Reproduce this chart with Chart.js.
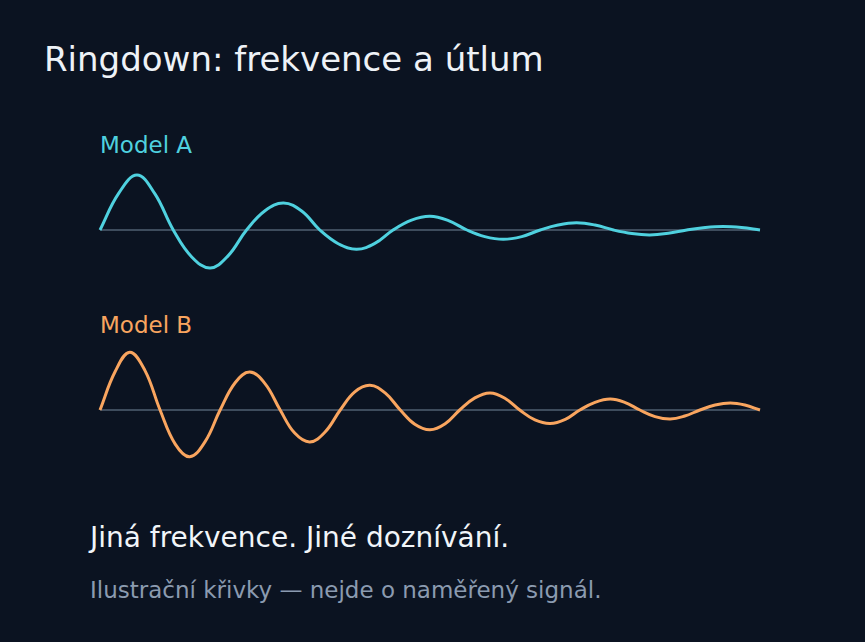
<!DOCTYPE html>
<html>
<head>
<meta charset="utf-8">
<script src="https://cdn.jsdelivr.net/npm/chart.js@4.4.1/dist/chart.umd.min.js"></script>
<style>
  html, body { margin: 0; padding: 0; }
  body { width: 865px; height: 642px; background: #0b1321; position: relative; overflow: hidden;
         font-family: "DejaVu Sans", sans-serif; }
  .txt { position: absolute; white-space: nowrap; line-height: 1; }
  #title { left: 44px; top: 42px; font-size: 34px; color: #eef2f7; }
  #labA { left: 100px; top: 134px; font-size: 23px; color: #4fd1df; }
  #labB { left: 100px; top: 314px; font-size: 23px; color: #f9a55f; }
  #sub { left: 90px; top: 524px; font-size: 28px; color: #f1f5f9; }
  #note { left: 90px; top: 579px; font-size: 23px; color: #8b9bb0; }
  .panel { position: absolute; left: 90px; width: 680px; height: 152px; }
  #pA { top: 154px; }
  #pB { top: 334px; }
</style>
</head>
<body>
<div class="txt" id="title">Ringdown: frekvence a útlum</div>
<div class="txt" id="labA">Model A</div>
<div class="txt" id="labB">Model B</div>
<div class="panel" id="pA"><canvas id="cA"></canvas></div>
<div class="panel" id="pB"><canvas id="cB"></canvas></div>
<div class="txt" id="sub">Jiná frekvence. Jiné doznívání.</div>
<div class="txt" id="note">Ilustrační křivky — nejde o naměřený signál.</div>
<script>
// time axis (arbitrary units) and amplitudes
const timeA = [0, 0.28, 0.56, 0.83, 1.11, 1.39, 1.67, 1.94, 2.22, 2.5, 2.78, 3.06, 3.33, 3.61, 3.89, 4.17, 4.44, 4.72, 5, 5.28, 5.56, 5.83, 6.11, 6.39, 6.67, 6.94, 7.22, 7.5, 7.78, 8.06, 8.33, 8.61, 8.89, 9.17, 9.44, 9.72, 10];
const modelA = [0, 0.66, 1.00, 0.66, 0, -0.49, -0.69, -0.47, 0, 0.35, 0.49, 0.34, 0, -0.25, -0.35, -0.24, 0, 0.18, 0.25, 0.17, 0, -0.12, -0.17, -0.12, 0, 0.09, 0.13, 0.09, 0, -0.065, -0.09, -0.06, 0, 0.045, 0.064, 0.045, 0];
const timeB = [0, 0.23, 0.45, 0.68, 0.91, 1.14, 1.36, 1.59, 1.82, 2.05, 2.27, 2.5, 2.73, 2.95, 3.18, 3.41, 3.64, 3.86, 4.09, 4.32, 4.55, 4.77, 5, 5.23, 5.45, 5.68, 5.91, 6.14, 6.36, 6.59, 6.82, 7.05, 7.27, 7.5, 7.73, 7.95, 8.18, 8.41, 8.64, 8.86, 9.09, 9.32, 9.55, 9.77, 10];
const modelB = [0, 0.70, 1.05, 0.72, 0, -0.62, -0.85, -0.58, 0, 0.50, 0.69, 0.48, 0, -0.42, -0.58, -0.40, 0, 0.33, 0.45, 0.31, 0, -0.26, -0.36, -0.25, 0, 0.22, 0.31, 0.21, 0, -0.18, -0.245, -0.17, 0, 0.14, 0.20, 0.14, 0, -0.12, -0.165, -0.11, 0, 0.09, 0.127, 0.09, 0];
const baseTime = [0, 10];
const baseValue = [0, 0];

function makePanel(id, times, values, color) {
  const pts = times.map((t, i) => ({ x: t, y: values[i] }));
  const base = baseTime.map((t, i) => ({ x: t, y: baseValue[i] }));
  new Chart(document.getElementById(id), {
    type: 'line',
    data: {
      datasets: [
        { data: pts, borderColor: color, borderWidth: 3, pointRadius: 0,
          tension: 0.4, fill: false, order: 1, clip: false },
        { data: base, borderColor: '#3e4c5d', borderWidth: 2, pointRadius: 0,
          fill: false, order: 2, clip: false }
      ]
    },
    options: {
      responsive: true,
      maintainAspectRatio: false,
      animation: false,
      layout: { padding: 10 },
      plugins: { legend: { display: false }, tooltip: { enabled: false } },
      scales: {
        x: { type: 'linear', min: 0, max: 10, display: false },
        y: { min: -1.2, max: 1.2, display: false }
      }
    }
  });
}
makePanel('cA', timeA, modelA, '#4fd1df');
makePanel('cB', timeB, modelB, '#f9a55f');
</script>
</body>
</html>
